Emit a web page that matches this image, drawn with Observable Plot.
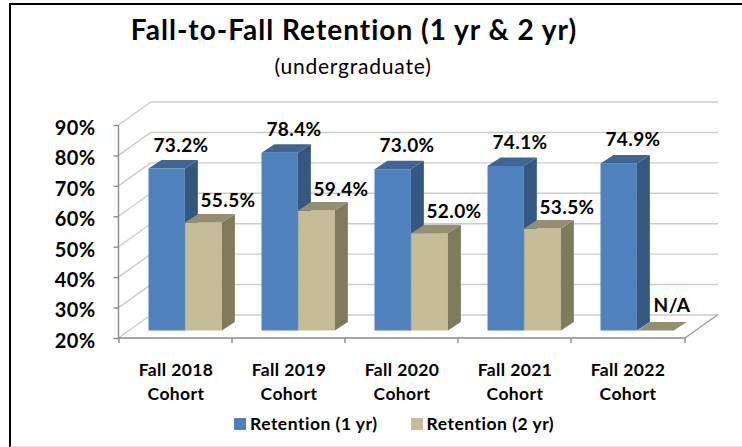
<!DOCTYPE html>
<html>
<head>
<meta charset="utf-8">
<script src="https://cdn.jsdelivr.net/npm/d3@7"></script>
<script src="https://cdn.jsdelivr.net/npm/@observablehq/plot@0.6"></script>
<style>
  html, body { margin: 0; padding: 0; background: #fff; }
  #wrap { position: relative; width: 742px; height: 447px; overflow: hidden; font-family: Lato, "Open Sans", sans-serif; color: #000; }
  #frame { position: absolute; left: 9px; top: 3px; width: 800px; height: 441px; border-left: 2px solid #000; border-top: 2px solid #000; border-bottom: 1px solid #e2e2e2; }
  #title { position: absolute; left: 0; width: 708px; top: 15px; text-align: center; font-weight: 700; font-size: 28px; line-height: 28px; letter-spacing: 1px; white-space: nowrap; }
  #subtitle { position: absolute; left: 0; width: 706px; top: 55px; text-align: center; font-weight: 400; font-size: 21px; line-height: 21px; letter-spacing: 0.8px; white-space: nowrap; }
  #chart { position: absolute; left: 0; top: 88px; }
  #legend { position: absolute; left: 234px; top: 414px; display: flex; align-items: center; font-weight: 700; font-size: 17.5px; line-height: 20px; letter-spacing: 0.5px; white-space: nowrap; }
  .item { display: flex; align-items: center; }
  .sw { width: 12px; height: 12px; margin-right: 4px; }
</style>
</head>
<body>
<div id="wrap">
  <div id="frame"></div>
  <div id="title"></div>
  <div id="subtitle"></div>
  <div id="chart"></div>
  <div id="legend"></div>
</div>
<script>
// ---- data ----
const titleText = "Fall-to-Fall Retention (1 yr & 2 yr)";
const subtitleText = "(undergraduate)";
const cohorts = ["Fall 2018\nCohort", "Fall 2019\nCohort", "Fall 2020\nCohort", "Fall 2021\nCohort", "Fall 2022\nCohort"];
const retention1yr = [73.2, 78.4, 73.0, 74.1, 74.9];
const retention2yr = [55.5, 59.4, 52.0, 53.5, null];
const seriesNames = ["Retention (1 yr)", "Retention (2 yr)"];
const yTicks = [20, 30, 40, 50, 60, 70, 80, 90];
const missingLabel = "N/A";

// ---- styles ----
const FLOOR = yTicks[0];
const WALL_DX = 33, WALL_DY = 23.5;   // depth of the 3D box
const BAR_DX = 9.5, BAR_DY = -7.5;    // plane of the bar fronts
const BAR_SX = 13, BAR_SY = 8.5;      // depth of each bar
const gridColor = "#cbcbcb";
const axisColor = "#8a8a8a";
const colors = {
  [seriesNames[0]]: {front: "#4F81BD", side: "#34587F", top: "#3D6696"},
  [seriesNames[1]]: {front: "#C4BD97", side: "#7F7A5C", top: "#958E6F"}
};

document.getElementById("title").textContent = titleText;
document.getElementById("subtitle").textContent = subtitleText;

const rows1 = cohorts.map((c, i) => ({cohort: c, series: seriesNames[0], value: retention1yr[i]}));
const rows2 = cohorts.map((c, i) => ({cohort: c, series: seriesNames[1], value: retention2yr[i]}));
const fmt = v => v.toFixed(1) + "%";

const svgns = "http://www.w3.org/2000/svg";
function poly(points, fill) {
  const p = document.createElementNS(svgns, "polygon");
  p.setAttribute("points", points.map(d => d.join(",")).join(" "));
  p.setAttribute("fill", fill);
  return p;
}
function seg(g, xa, ya, xb, yb, stroke, sw) {
  const l = document.createElementNS(svgns, "line");
  l.setAttribute("x1", xa); l.setAttribute("y1", ya);
  l.setAttribute("x2", xb); l.setAttribute("y2", yb);
  l.setAttribute("stroke", stroke); l.setAttribute("stroke-width", sw);
  g.appendChild(l);
}

function bar3d(data, name, insetLeft, insetRight) {
  const c = colors[name];
  return Plot.barY(data, {
    x: "cohort", y1: FLOOR, y2: d => d.value ?? FLOOR,
    fill: c.front, insetLeft, insetRight, dx: BAR_DX, dy: BAR_DY,
    render(index, scales, values, dims, ctx, next) {
      const g = next(index, scales, values, dims, ctx);
      for (const r of Array.from(g.querySelectorAll("rect"))) {
        const x = +r.getAttribute("x"), y = +r.getAttribute("y");
        const w = +r.getAttribute("width"), h = +r.getAttribute("height");
        const side = poly([[x + w, y], [x + w + BAR_SX, y - BAR_SY], [x + w + BAR_SX, y + h - BAR_SY], [x + w, y + h]], c.side);
        const top = poly([[x, y], [x + BAR_SX, y - BAR_SY], [x + w + BAR_SX, y - BAR_SY], [x + w, y]], c.top);
        r.parentNode.insertBefore(side, r.nextSibling);
        r.parentNode.insertBefore(top, side.nextSibling);
      }
      return g;
    }
  });
}

// walls: left wall diagonals and right floor edge
function walls(index, scales, values, dims) {
  const g = document.createElementNS(svgns, "g");
  const x0 = dims.marginLeft, x1 = dims.width - dims.marginRight;
  for (const t of yTicks) {
    const y = scales.y(t);
    seg(g, x0, y, x0 + WALL_DX, y - WALL_DY, gridColor, 1.4);
  }
  const yf = scales.y(FLOOR);
  seg(g, x1, yf, x1 + WALL_DX, yf - WALL_DY, "#9a9a9a", 1.4);
  return g;
}
// front axis lines and x ticks at category edges
function frontAxes(index, scales, values, dims) {
  const g = document.createElementNS(svgns, "g");
  const x0 = dims.marginLeft, x1 = dims.width - dims.marginRight;
  const yf = scales.y(FLOOR), yt = scales.y(yTicks[yTicks.length - 1]);
  seg(g, x0, yt, x0, yf, axisColor, 1.4);
  seg(g, x0, yf, x1, yf, axisColor, 1.4);
  const edges = cohorts.map(c => scales.x(c)).concat([x1]);
  for (const e of edges) seg(g, e, yf, e, yf + 5, axisColor, 1.4);
  return g;
}

const bw = (742 - 57 - 118.5) / cohorts.length;
const half = bw / 2;

const chart = Plot.plot({
  width: 742,
  height: 318,
  marginLeft: 118.5,
  marginRight: 57,
  marginTop: 37,
  marginBottom: 68,
  style: {fontFamily: "Lato, 'Open Sans', sans-serif", fontWeight: "700", background: "transparent", letterSpacing: "0.4px"},
  x: {type: "band", domain: cohorts, padding: 0, axis: null},
  y: {domain: [FLOOR, yTicks[yTicks.length - 1]], axis: null, label: null},
  marks: [
    Plot.ruleY(yTicks, {dx: WALL_DX, dy: -WALL_DY, stroke: gridColor, strokeWidth: 1.4}),
    walls,
    frontAxes,
    Plot.axisY({ticks: yTicks, tickSize: 0, tickPadding: 23.5, tickFormat: d => d + "%", fontSize: 20, fontWeight: 700, fill: "#000", dy: 3, label: null}),
    Plot.axisY({ticks: yTicks, tickSize: 5, tickFormat: () => "", stroke: axisColor, strokeWidth: 1.4, label: null}),
    Plot.axisX({tickSize: 0, tickPadding: 20, fontSize: 17.5, fontWeight: 700, fill: "#000", lineHeight: 1.38, label: null}),
    bar3d(rows1, seriesNames[0], 20, bw - half),
    bar3d(rows2, seriesNames[1], half, bw - half - 37),
    Plot.text(rows1, {x: "cohort", y: "value", text: d => fmt(d.value), dx: 5, dy: -25, lineAnchor: "bottom", fontSize: 19, fontWeight: 700, fill: "#000"}),
    Plot.text(rows2.filter(d => d.value != null), {x: "cohort", y: "value", text: d => fmt(d.value), dx: 52, dy: -23, lineAnchor: "bottom", fontSize: 19, fontWeight: 700, fill: "#000"}),
    Plot.text(rows2.filter(d => d.value == null), {x: "cohort", y: () => FLOOR, text: () => missingLabel, dx: 44, dy: -27, lineAnchor: "bottom", fontSize: 19, fontWeight: 700, fill: "#000"})
  ]
});
document.getElementById("chart").appendChild(chart);

// legend
const legend = document.getElementById("legend");
seriesNames.forEach((name, i) => {
  const item = document.createElement("div");
  item.className = "item";
  if (i > 0) item.style.marginLeft = "33px";
  const sw = document.createElement("div");
  sw.className = "sw";
  sw.style.background = colors[name].front;
  const t = document.createElement("span");
  t.textContent = name;
  item.appendChild(sw); item.appendChild(t);
  legend.appendChild(item);
});
</script>
</body>
</html>
